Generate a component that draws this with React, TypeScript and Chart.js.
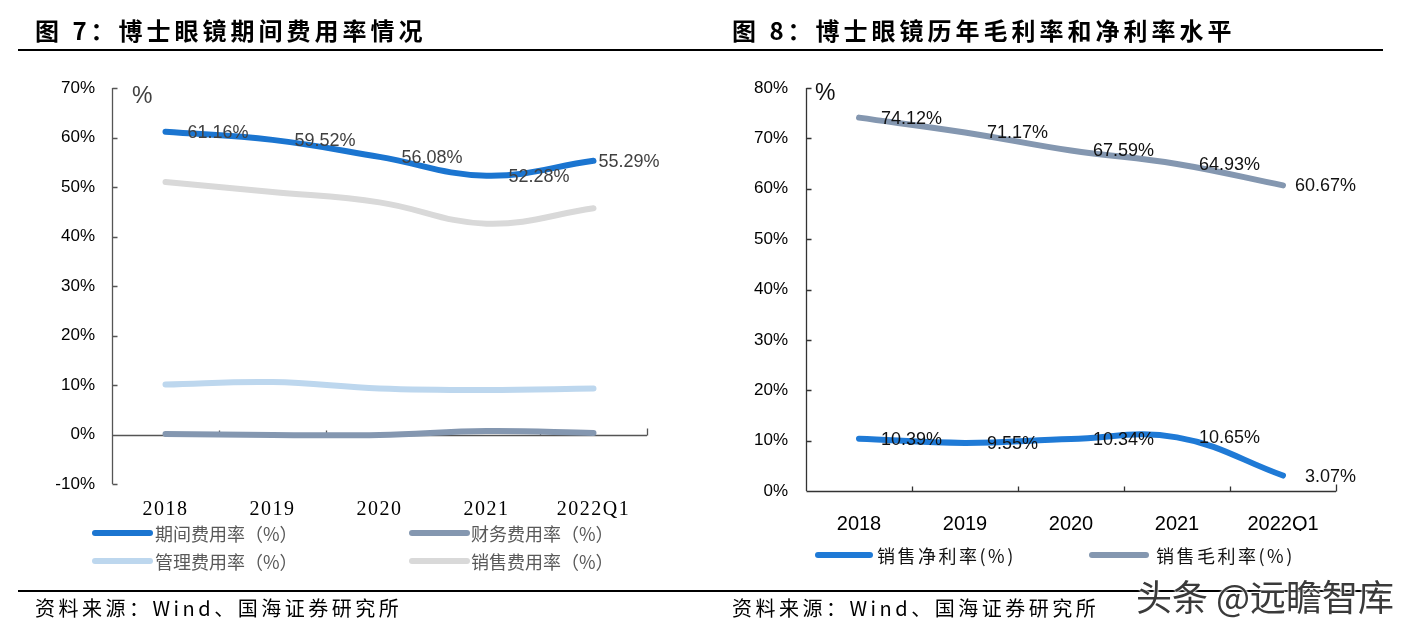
import React, { useEffect, useRef } from "react";
import { Chart, registerables } from "chart.js";

Chart.register(...registerables);

// ---------- data ----------
const categories = ["2018", "2019", "2020", "2021", "2022Q1"];

// 图7 期间费用率情况 (%)
const periodExpenseRate = [61.16, 59.52, 56.08, 52.28, 55.29];
const financeExpenseRate = [0.1, -0.1, -0.1, 0.7, 0.3];
const adminExpenseRate = [10.1, 10.6, 9.3, 9.0, 9.3];
const salesExpenseRate = [51.0, 49.0, 46.9, 42.6, 45.7];

// 图8 毛利率和净利率 (%)
const netMarginRate = [10.39, 9.55, 10.34, 10.65, 3.07];
const grossMarginRate = [74.12, 71.17, 67.59, 64.93, 60.67];

const leftAxis = { min: -10, max: 70, step: 10 };
const rightAxis = { min: 0, max: 80, step: 10 };

const seriesNamesLeft = ["期间费用率（%）", "财务费用率（%）", "管理费用率（%）", "销售费用率（%）"];
const seriesNamesRight = ["销售净利率(%)", "销售毛利率(%)"];

// ---------- plugin ----------
const decorPlugin = {
  id: "decor",
  beforeDatasetsDraw(chart: any, _args: any, opts: any) {
    const { ctx, chartArea, scales } = chart;
    const x = scales.x;
    const y = scales.y;
    ctx.save();
    ctx.strokeStyle = opts.axisColor;
    ctx.lineWidth = 1.3;
    ctx.beginPath();
    const lx = Math.round(chartArea.left) + 0.5;
    ctx.moveTo(lx, chartArea.top);
    ctx.lineTo(lx, chartArea.bottom);
    y.ticks.forEach((t: any) => {
      const py = Math.round(y.getPixelForValue(t.value)) + 0.5;
      ctx.moveTo(lx, py);
      ctx.lineTo(lx + 5, py);
    });
    const y0 = Math.round(y.getPixelForValue(0)) + 0.5;
    ctx.moveTo(lx, y0);
    ctx.lineTo(chartArea.right, y0);
    const n = chart.data.labels.length;
    for (let i = 1; i <= n; i++) {
      const bx = Math.round(x.getPixelForValue(i - 0.5)) + 0.5;
      ctx.moveTo(bx, y0);
      ctx.lineTo(bx, y0 - (i === n ? 7 : 5));
    }
    ctx.stroke();
    ctx.restore();
  },
  afterDatasetsDraw(chart: any, _args: any, opts: any) {
    const { ctx } = chart;
    ctx.save();
    ctx.font = opts.labelFont;
    ctx.fillStyle = opts.labelColor;
    ctx.textAlign = "left";
    ctx.textBaseline = "middle";
    chart.data.datasets.forEach((ds: any, i: number) => {
      if (!ds.showValues) return;
      const meta = chart.getDatasetMeta(i);
      meta.data.forEach((pt: any, j: number) => {
        const last = j === meta.data.length - 1;
        const off = last && ds.lastOffset != null ? ds.lastOffset : 22;
        ctx.fillText(ds.data[j].toFixed(2) + "%", pt.x + off, pt.y + 1);
      });
    });
    ctx.restore();
    if (opts.xLetterSpacing) ctx.letterSpacing = opts.xLetterSpacing;
  },
  afterDraw(chart: any, _args: any, opts: any) {
    const { ctx, chartArea } = chart;
    ctx.letterSpacing = "0px";
    ctx.save();
    // unit
    ctx.font = opts.unitFont;
    ctx.fillStyle = opts.unitColor;
    ctx.textAlign = "left";
    ctx.textBaseline = "middle";
    ctx.fillText("%", chartArea.left + opts.unitDx, chartArea.top + opts.unitDy);
    // legend
    ctx.font = opts.legendFont;
    ctx.fillStyle = opts.legendColor;
    if (opts.legendSpacing) ctx.letterSpacing = opts.legendSpacing;
    chart.data.datasets.forEach((ds: any, i: number) => {
      const p = opts.legendItems[i];
      if (!p) return;
      ctx.strokeStyle = ds.borderColor;
      ctx.lineWidth = 6;
      ctx.lineCap = "round";
      ctx.beginPath();
      ctx.moveTo(p.x, p.y);
      ctx.lineTo(p.x + p.len, p.y);
      ctx.stroke();
      ctx.fillText(ds.label, p.tx, p.y + 1);
    });
    ctx.letterSpacing = "0px";
    ctx.restore();
  },
};

function makeLine(label: string, data: number[], color: string, extra: any = {}) {
  return {
    label,
    data,
    borderColor: color,
    backgroundColor: color,
    borderWidth: 6,
    borderCapStyle: "round",
    borderJoinStyle: "round",
    pointRadius: 0,
    tension: 0.4,
    clip: false,
    ...extra,
  };
}

function baseOptions(axis: any, yWidth: number, xHeight: number, padding: any, xFont: any, xPad: number, yPad: number, decor: any) {
  return {
    responsive: true,
    maintainAspectRatio: false,
    animation: false,
    events: [],
    layout: { padding },
    plugins: {
      legend: { display: false },
      tooltip: { enabled: false },
      decor,
    },
    scales: {
      x: {
        type: "category",
        offset: true,
        grid: { display: false, drawTicks: false },
        border: { display: false },
        ticks: { font: xFont, color: "#000", padding: xPad, maxRotation: 0, autoSkip: false, z: 1 },
        afterFit: (s: any) => {
          s.height = xHeight;
        },
      },
      y: {
        min: axis.min,
        max: axis.max,
        grid: { display: false, drawTicks: false },
        border: { display: false },
        ticks: {
          stepSize: axis.step,
          font: { family: "'Liberation Sans', Arial, sans-serif", size: 17 },
          color: "#000",
          padding: yPad,
          callback: (v: any) => v + "%",
        },
        afterFit: (s: any) => {
          s.width = yWidth;
        },
      },
    },
  };
}

export default function App() {
  const leftRef = useRef<HTMLCanvasElement>(null);
  const rightRef = useRef<HTMLCanvasElement>(null);

  useEffect(() => {
    const left = new Chart(leftRef.current as HTMLCanvasElement, {
      type: "line",
      data: {
        labels: categories,
        datasets: [
          makeLine(seriesNamesLeft[0], periodExpenseRate, "#1b75d0", { showValues: true, lastOffset: 5 }),
          makeLine(seriesNamesLeft[1], financeExpenseRate, "#8497b0"),
          makeLine(seriesNamesLeft[2], adminExpenseRate, "#bdd7ee"),
          makeLine(seriesNamesLeft[3], salesExpenseRate, "#d9d9d9"),
        ],
      },
      options: baseOptions(
        leftAxis,
        112,
        40,
        { top: 88, left: 0, right: 58, bottom: 109 },
        { family: "'Liberation Serif', 'Times New Roman', serif", size: 20 },
        14,
        17,
        {
          axisColor: "#555",
          labelFont: "18px 'Liberation Sans', Arial, sans-serif",
          labelColor: "#404040",
          xLetterSpacing: "1.5px",
          unitFont: "23px 'Liberation Sans', Arial, sans-serif",
          unitColor: "#404040",
          unitDx: 20,
          unitDy: 9,
          legendFont: "18px 'Noto Sans CJK SC', sans-serif",
          legendColor: "#595959",
          legendItems: [
            { x: 95, y: 533, len: 55, tx: 155 },
            { x: 412, y: 533, len: 55, tx: 471 },
            { x: 95, y: 561, len: 55, tx: 155 },
            { x: 412, y: 561, len: 55, tx: 471 },
          ],
        }
      ) as any,
      plugins: [decorPlugin as any],
    });

    const right = new Chart(rightRef.current as HTMLCanvasElement, {
      type: "line",
      data: {
        labels: categories,
        datasets: [
          makeLine(seriesNamesRight[0], netMarginRate, "#1f7ad6", { showValues: true }),
          makeLine(seriesNamesRight[1], grossMarginRate, "#8497b0", { showValues: true, lastOffset: 12 }),
        ],
      },
      options: baseOptions(
        rightAxis,
        101,
        40,
        { top: 88, left: 0, right: 81, bottom: 102 },
        { family: "'Liberation Sans', Arial, sans-serif", size: 20 },
        21,
        18,
        {
          axisColor: "#333",
          labelFont: "18px 'Liberation Sans', Arial, sans-serif",
          labelColor: "#111",
          unitFont: "23px 'Liberation Sans', Arial, sans-serif",
          unitColor: "#111",
          unitDx: 9,
          unitDy: 6,
          legendFont: "18px 'Noto Sans CJK SC', sans-serif",
          legendColor: "#111",
          legendSpacing: "2.5px",
          legendItems: [
            { x: 113, y: 555, len: 52, tx: 172 },
            { x: 387, y: 555, len: 54, tx: 451 },
          ],
        }
      ) as any,
      plugins: [decorPlugin as any],
    });

    return () => {
      left.destroy();
      right.destroy();
    };
  }, []);

  const titleStyle: React.CSSProperties = {
    position: "absolute",
    top: 14,
    fontFamily: "'Noto Sans CJK SC', sans-serif",
    fontWeight: 700,
    fontSize: 24,
    lineHeight: "32px",
    letterSpacing: "4px",
    color: "#000",
    whiteSpace: "nowrap",
  };
  const sourceStyle: React.CSSProperties = {
    position: "absolute",
    top: 594,
    fontFamily: "'Noto Sans CJK SC', sans-serif",
    fontSize: 20,
    lineHeight: "28px",
    letterSpacing: "3.5px",
    color: "#000",
    whiteSpace: "nowrap",
  };

  return (
    <div
      style={{
        position: "absolute",
        left: 0,
        top: 0,
        width: 1417,
        height: 633,
        background: "#fff",
        overflow: "hidden",
      }}
    >
      <div style={{ position: "absolute", left: 0, top: 0, width: 705, height: 633 }}>
        <canvas ref={leftRef} />
      </div>
      <div style={{ position: "absolute", left: 705, top: 0, width: 712, height: 633 }}>
        <canvas ref={rightRef} />
      </div>
      <div style={{ ...titleStyle, left: 35 }}>图 7：博士眼镜期间费用率情况</div>
      <div style={{ ...titleStyle, left: 732 }}>图 8：博士眼镜历年毛利率和净利率水平</div>
      <div style={{ position: "absolute", left: 18, top: 49, width: 1365, height: 2, background: "#000" }} />
      <div style={{ position: "absolute", left: 18, top: 590, width: 1365, height: 2, background: "#000" }} />
      <div style={{ ...sourceStyle, left: 35 }}>资料来源：Wind、国海证券研究所</div>
      <div style={{ ...sourceStyle, left: 732 }}>资料来源：Wind、国海证券研究所</div>
      <div
        style={{
          position: "absolute",
          left: 1136,
          top: 572,
          fontFamily: "'Noto Sans CJK SC', sans-serif",
          fontSize: 36,
          lineHeight: "46px",
          color: "#3a3a3a",
          whiteSpace: "nowrap",
          textShadow: "0 0 2px #fff, 0 0 2px #fff, 0 0 3px #fff",
        }}
      >
        头条 @远瞻智库
      </div>
    </div>
  );
}
